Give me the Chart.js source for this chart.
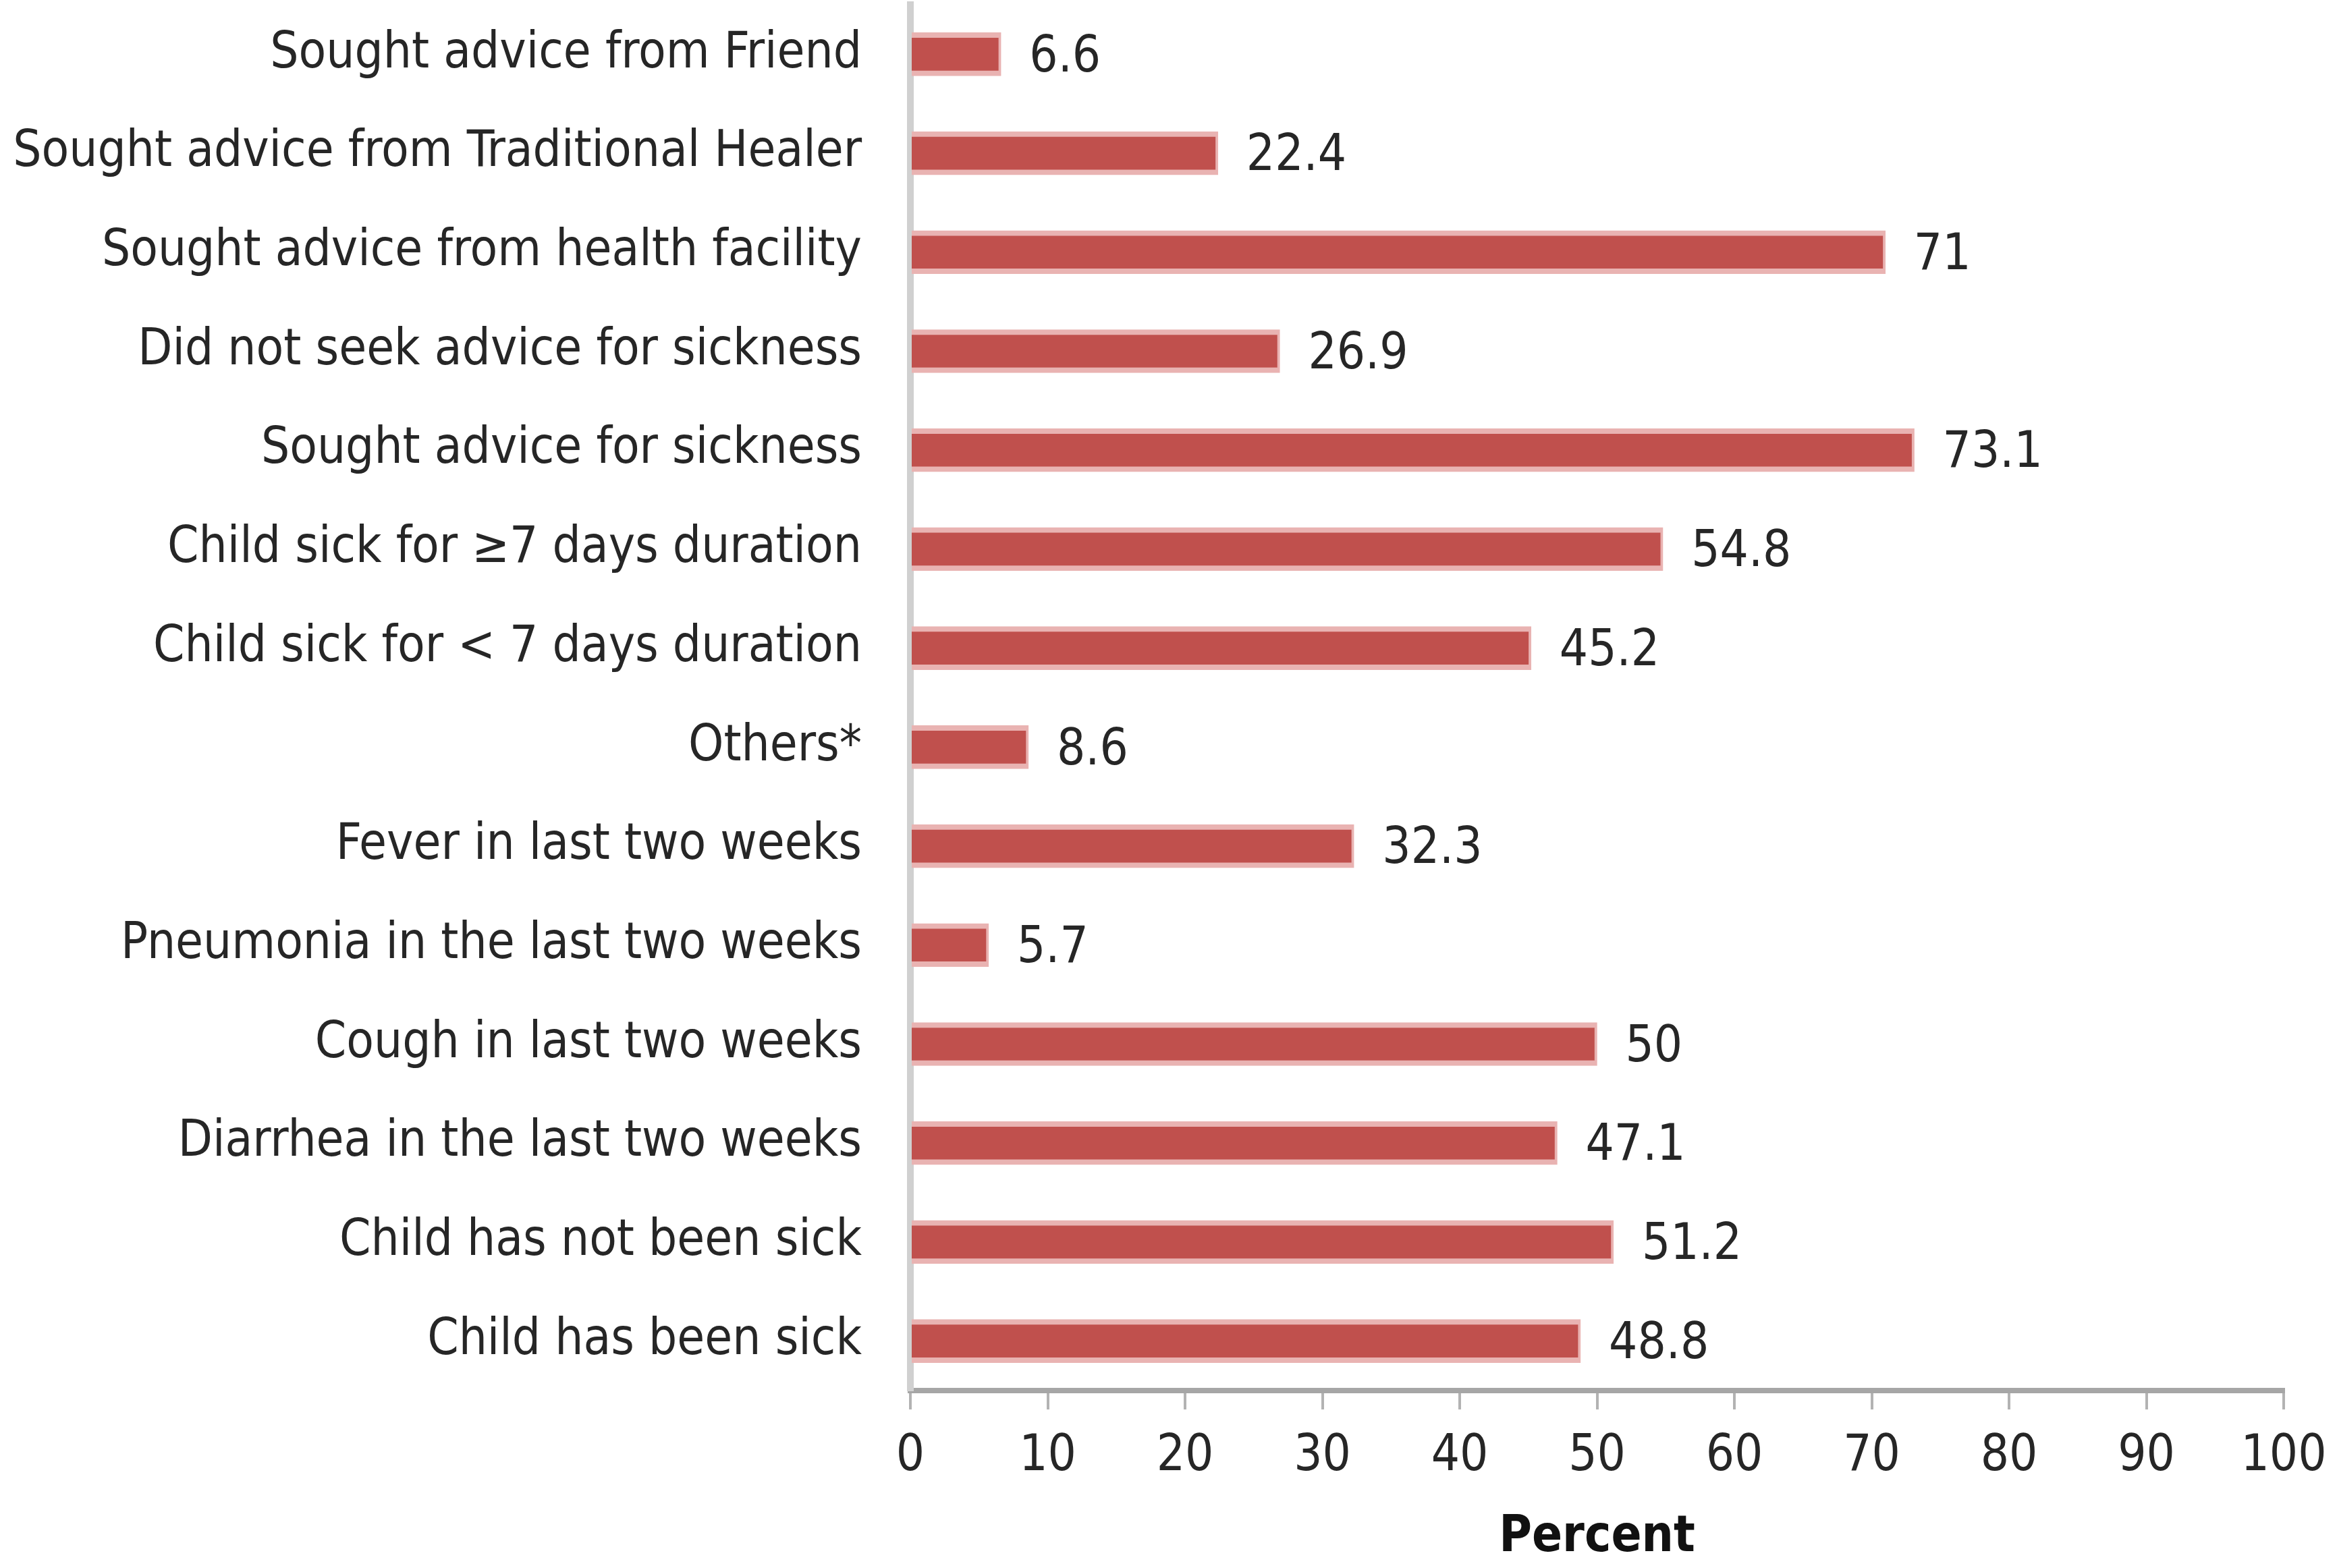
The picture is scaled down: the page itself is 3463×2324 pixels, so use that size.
<!DOCTYPE html>
<html>
<head>
<meta charset="utf-8">
<script src="https://cdn.jsdelivr.net/npm/chart.js@4.4.1/dist/chart.umd.min.js"></script>
<style>
  html, body { margin: 0; padding: 0; background: #fff; }
  canvas { display: block; }
</style>
</head>
<body>
<canvas id="illnessChart" width="3463" height="2324"></canvas>
<script>
const categories = [
  "Sought advice from Friend",
  "Sought advice from Traditional Healer",
  "Sought advice from health facility",
  "Did not seek advice for sickness",
  "Sought advice for sickness",
  "Child sick for \u22657 days duration",
  "Child sick for < 7 days duration",
  "Others*",
  "Fever in last two weeks",
  "Pneumonia in the last two weeks",
  "Cough in last two weeks",
  "Diarrhea in the last two weeks",
  "Child has not been sick",
  "Child has been sick"
];
const percents = [6.6, 22.4, 71, 26.9, 73.1, 54.8, 45.2, 8.6, 32.3, 5.7, 50, 47.1, 51.2, 48.8];
const valueLabels = ["6.6", "22.4", "71", "26.9", "73.1", "54.8", "45.2", "8.6", "32.3", "5.7", "50", "47.1", "51.2", "48.8"];
const xTicks = [0, 10, 20, 30, 40, 50, 60, 70, 80, 90, 100];

// Calibri is not there; use a narrow face if installed, else a condensed one
function pickFamily() {
  const c = document.createElement("canvas").getContext("2d");
  c.font = "50px monospace";
  const base = c.measureText("Sought advice").width;
  c.font = "50px 'Liberation Sans Narrow', monospace";
  const narrow = c.measureText("Sought advice").width;
  return narrow !== base ? "'Liberation Sans Narrow'" : "'DejaVu Sans Condensed'";
}
const FONT = pickFamily() + ", sans-serif";

// size the labels so the longest one spans the same width as in the original
function labelSize() {
  const c = document.createElement("canvas").getContext("2d");
  c.font = "100px " + FONT;
  const w = c.measureText("Sought advice from Traditional Healer").width;
  return Math.round(100 * 1262 / w);
}
const SIZE = labelSize();
const TEXT = "#262626";

const barValues = {
  id: "barValues",
  afterDatasetsDraw(chart) {
    const ctx = chart.ctx;
    const meta = chart.getDatasetMeta(0);
    ctx.save();
    ctx.font = SIZE + "px " + FONT;
    ctx.fillStyle = TEXT;
    ctx.textAlign = "left";
    ctx.textBaseline = "middle";
    meta.data.forEach((bar, i) => {
      ctx.fillText(valueLabels[i], bar.x + 42, bar.y + 6);
    });
    ctx.restore();
  }
};

new Chart(document.getElementById("illnessChart"), {
  type: "bar",
  data: {
    labels: categories,
    datasets: [
      {
        data: percents,
        backgroundColor: "#c0504d",
        borderColor: "#e9b3b2",
        borderWidth: { top: 8, bottom: 8, left: 0, right: 4 },
        borderSkipped: false,
        barThickness: 64
      }
    ]
  },
  options: {
    indexAxis: "y",
    responsive: false,
    animation: false,
    devicePixelRatio: 1,
    layout: { padding: { top: 7, right: 79, bottom: 0, left: 0 } },
    plugins: {
      legend: { display: false },
      tooltip: { enabled: false }
    },
    scales: {
      x: {
        min: 0,
        max: 100,
        afterFit: (scale) => {
          scale.height = 263;
          scale.paddingLeft = 0;
          scale.paddingRight = 0;
        },
        afterBuildTicks: (scale) => { scale.ticks = xTicks.map((v) => ({ value: v })); },
        grid: {
          drawOnChartArea: false,
          drawTicks: true,
          tickLength: 28,
          color: "#b3b3b3",
          lineWidth: 4
        },
        border: { display: true, color: "#a6a6a6", width: 8 },
        ticks: {
          color: TEXT,
          font: { family: FONT, size: SIZE },
          padding: 26,
          maxRotation: 0
        },
        title: {
          display: true,
          text: "Percent",
          color: "#111",
          font: { family: FONT, size: SIZE, weight: "bold" },
          padding: { top: 0, bottom: 0 }
        }
      },
      y: {
        afterFit: (scale) => {
          scale.width = 1349;
          scale.paddingTop = 0;
          scale.paddingBottom = 0;
        },
        grid: { display: false, drawTicks: false },
        border: { display: true, color: "#d0d0d0", width: 10 },
        ticks: {
          color: TEXT,
          font: { family: FONT, size: SIZE },
          padding: 72,
          autoSkip: false
        }
      }
    }
  },
  plugins: [barValues]
});
</script>
</body>
</html>
